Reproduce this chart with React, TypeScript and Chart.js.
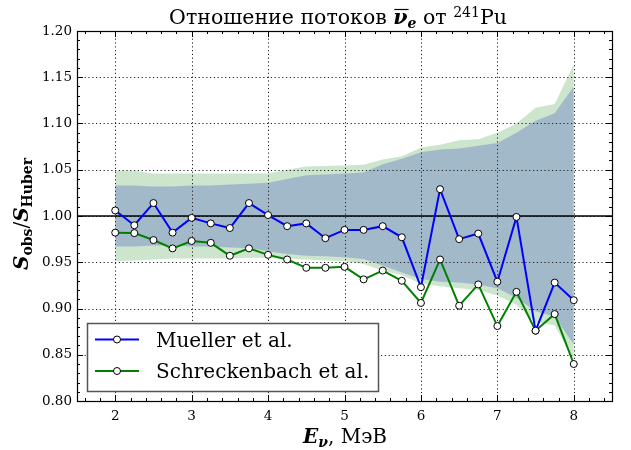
import React, { useEffect, useRef } from "react";
import { Chart, registerables } from "chart.js";

Chart.register(...registerables);

// ---------- data ----------
const energy = [2, 2.25, 2.5, 2.75, 3, 3.25, 3.5, 3.75, 4, 4.25, 4.5, 4.75, 5, 5.25, 5.5, 5.75, 6, 6.25, 6.5, 6.75, 7, 7.25, 7.5, 7.75, 8];

const mueller = [1.006, 0.990, 1.014, 0.982, 0.998, 0.992, 0.987, 1.014, 1.001, 0.989, 0.992, 0.976, 0.985, 0.985, 0.989, 0.977, 0.923, 1.029, 0.975, 0.981, 0.929, 0.999, 0.876, 0.928, 0.909];

const schreckenbach = [0.982, 0.9815, 0.974, 0.965, 0.973, 0.971, 0.957, 0.965, 0.958, 0.953, 0.944, 0.944, 0.945, 0.9315, 0.941, 0.930, 0.906, 0.953, 0.903, 0.926, 0.881, 0.918, 0.876, 0.894, 0.840];

const muellerBandHigh = [1.033, 1.033, 1.032, 1.032, 1.033, 1.033, 1.034, 1.035, 1.036, 1.040, 1.044, 1.045, 1.046, 1.047, 1.056, 1.062, 1.069, 1.072, 1.073, 1.076, 1.079, 1.090, 1.103, 1.111, 1.140];
const muellerBandLow = [0.967, 0.967, 0.968, 0.968, 0.967, 0.967, 0.966, 0.9655, 0.962, 0.959, 0.957, 0.9565, 0.9555, 0.9535, 0.9465, 0.939, 0.932, 0.929, 0.928, 0.926, 0.922, 0.9115, 0.897, 0.891, 0.861];

const schBandHigh = [1.049, 1.049, 1.046, 1.046, 1.046, 1.046, 1.046, 1.046, 1.046, 1.050, 1.0535, 1.054, 1.0545, 1.0555, 1.061, 1.0645, 1.074, 1.077, 1.082, 1.083, 1.090, 1.100, 1.117, 1.121, 1.164];
const schBandLow = [0.951, 0.952, 0.953, 0.954, 0.954, 0.954, 0.954, 0.955, 0.955, 0.954, 0.953, 0.952, 0.951, 0.948, 0.941, 0.936, 0.927, 0.924, 0.922, 0.920, 0.914, 0.904, 0.885, 0.882, 0.845];

const referenceLevel = 1.0;
const xTickValues = [2, 3, 4, 5, 6, 7, 8];
const yTickValues = [0.8, 0.85, 0.9, 0.95, 1.0, 1.05, 1.1, 1.15, 1.2];
const xRange = [1.5, 8.5];
const yRange = [0.8, 1.2];
const seriesNames = ["Mueller et al.", "Schreckenbach et al."];

// ---------- styles ----------
const FONT = '"DejaVu Serif", "Liberation Serif", serif';
const BLUE = "#0000ff";
const GREEN = "#008000";
const BLUE_BAND = "#a2b9ca";
const GREEN_BAND = "#cce5cc";

type Seg = { t: string; font: string; dy?: number; over?: boolean };

function drawRich(ctx: CanvasRenderingContext2D, segs: Seg[], cx: number, baseline: number, angle = 0) {
  ctx.save();
  ctx.translate(cx, baseline);
  if (angle) ctx.rotate(angle);
  let total = 0;
  const widths = segs.map((s) => {
    ctx.font = s.font;
    const w = ctx.measureText(s.t).width;
    total += w;
    return w;
  });
  let x = -total / 2;
  ctx.textAlign = "left";
  ctx.textBaseline = "alphabetic";
  ctx.fillStyle = "#000";
  segs.forEach((s, i) => {
    ctx.font = s.font;
    ctx.fillText(s.t, x, s.dy || 0);
    if (s.over) {
      ctx.strokeStyle = "#000";
      ctx.lineWidth = 1.2;
      ctx.beginPath();
      const oy = (s.dy || 0) - 14.5;
      ctx.moveTo(x + 1, oy);
      ctx.lineTo(x + widths[i] + 1, oy);
      ctx.stroke();
    }
    x += widths[i];
  });
  ctx.restore();
}

const decorPlugin = {
  id: "decor",
  afterDatasetDraw(chart: any, args: any) {
    // grid lines drawn just above the uncertainty bands
    if (args.index !== 3) return;
    const { ctx, chartArea: a, scales } = chart;
    const xs = scales.x, ys = scales.y;
    ctx.save();
    ctx.strokeStyle = "#222";
    ctx.lineWidth = 1;
    ctx.setLineDash([1.2, 2.6]);
    xTickValues.forEach((v) => {
      const px = Math.round(xs.getPixelForValue(v)) + 0.5;
      ctx.beginPath();
      ctx.moveTo(px, a.top);
      ctx.lineTo(px, a.bottom);
      ctx.stroke();
    });
    yTickValues.forEach((v) => {
      const py = Math.round(ys.getPixelForValue(v)) + 0.5;
      ctx.beginPath();
      ctx.moveTo(a.left, py);
      ctx.lineTo(a.right, py);
      ctx.stroke();
    });
    ctx.restore();
  },
  afterDraw(chart: any) {
    const { ctx, chartArea: a, scales } = chart;
    const xs = scales.x, ys = scales.y;
    ctx.save();
    // ticks (inward, all four sides)
    ctx.strokeStyle = "#000";
    ctx.lineWidth = 1;
    const tick = (x1: number, y1: number, x2: number, y2: number) => {
      ctx.beginPath();
      ctx.moveTo(x1, y1);
      ctx.lineTo(x2, y2);
      ctx.stroke();
    };
    for (let i = 0; i <= 35; i++) {
      const v = xRange[0] + 0.1 + i * 0.2;
      if (v > xRange[1]) break;
      const major = Math.abs(v - Math.round(v)) < 1e-6;
      const len = major ? 6 : 3;
      const px = Math.round(xs.getPixelForValue(v)) + 0.5;
      tick(px, a.bottom, px, a.bottom - len);
      tick(px, a.top, px, a.top + len);
    }
    for (let i = 0; i <= 40; i++) {
      const v = yRange[0] + i * 0.01;
      const major = i % 5 === 0;
      const len = major ? 6 : 3;
      const py = Math.round(ys.getPixelForValue(v)) + 0.5;
      tick(a.left, py, a.left + len, py);
      tick(a.right, py, a.right - len, py);
    }
    // frame
    ctx.lineWidth = 1.2;
    ctx.strokeRect(Math.round(a.left) + 0.5, Math.round(a.top) + 0.5, Math.round(a.right - a.left), Math.round(a.bottom - a.top));

    // legend
    const lx = 87, ly = 323, lw = 291, lh = 68;
    ctx.fillStyle = "#fff";
    ctx.fillRect(lx, ly, lw, lh);
    ctx.strokeStyle = "#555";
    ctx.lineWidth = 1.5;
    ctx.strokeRect(lx + 0.5, ly + 0.5, lw, lh);
    const rows = [
      { name: seriesNames[0], color: BLUE, y: 339.5 },
      { name: seriesNames[1], color: GREEN, y: 371 },
    ];
    rows.forEach((r) => {
      ctx.strokeStyle = r.color;
      ctx.lineWidth = 2;
      ctx.beginPath();
      ctx.moveTo(95, r.y);
      ctx.lineTo(139, r.y);
      ctx.stroke();
      ctx.fillStyle = "#fff";
      ctx.strokeStyle = "#000";
      ctx.lineWidth = 1;
      ctx.beginPath();
      ctx.arc(117, r.y, 3.5, 0, Math.PI * 2);
      ctx.fill();
      ctx.stroke();
      ctx.fillStyle = "#000";
      ctx.font = `20px ${FONT}`;
      ctx.textAlign = "left";
      ctx.textBaseline = "alphabetic";
      ctx.fillText(r.name, 156, r.y + 7);
    });

    // title
    const n = `20.5px ${FONT}`;
    const bi = `bold italic 20.5px ${FONT}`;
    drawRich(ctx, [
      { t: "Отношение потоков ", font: n },
      { t: "ν", font: bi, over: true },
      { t: "e", font: `bold italic 14px ${FONT}`, dy: 4 },
      { t: " от ", font: n },
      { t: "241", font: `14px ${FONT}`, dy: -7.5 },
      { t: "Pu", font: n },
    ], 338, 24);

    // x label
    drawRich(ctx, [
      { t: "E", font: `bold italic 20px ${FONT}` },
      { t: "ν", font: `bold italic 14px ${FONT}`, dy: 4 },
      { t: ", МэВ", font: `20px ${FONT}` },
    ], 345, 443);

    // y label
    drawRich(ctx, [
      { t: "S", font: `bold italic 20px ${FONT}` },
      { t: "obs", font: `bold 14px ${FONT}`, dy: 4 },
      { t: "/", font: `20px ${FONT}` },
      { t: "S", font: `bold italic 20px ${FONT}` },
      { t: "Huber", font: `bold 14px ${FONT}`, dy: 4 },
    ], 28, 214, -Math.PI / 2);
    ctx.restore();
  },
};

const pts = (ys: number[]) => energy.map((x, i) => ({ x, y: ys[i] }));

export default function App() {
  const ref = useRef<HTMLCanvasElement>(null);
  useEffect(() => {
    if (!ref.current) return;
    const chart = new Chart(ref.current, {
      type: "line",
      data: {
        datasets: [
          {
            label: seriesNames[0],
            data: pts(mueller),
            borderColor: BLUE,
            borderWidth: 2,
            pointRadius: 3.5,
            pointBackgroundColor: "#fff",
            pointBorderColor: "#000",
            pointBorderWidth: 1,
            fill: false,
            order: 0,
          },
          {
            label: seriesNames[1],
            data: pts(schreckenbach),
            borderColor: GREEN,
            borderWidth: 2,
            pointRadius: 3.5,
            pointBackgroundColor: "#fff",
            pointBorderColor: "#000",
            pointBorderWidth: 1,
            fill: false,
            order: 1,
          },
          {
            label: "ref",
            data: [
              { x: xRange[0], y: referenceLevel },
              { x: xRange[1], y: referenceLevel },
            ],
            borderColor: "#000",
            borderWidth: 1.5,
            pointRadius: 0,
            fill: false,
            order: 2,
          },
          {
            label: "muellerHigh",
            data: pts(muellerBandHigh),
            borderWidth: 0,
            borderColor: "rgba(0,0,0,0)",
            backgroundColor: BLUE_BAND,
            pointRadius: 0,
            fill: "+1",
            order: 3,
          },
          {
            label: "muellerLow",
            data: pts(muellerBandLow),
            borderWidth: 0,
            borderColor: "rgba(0,0,0,0)",
            pointRadius: 0,
            fill: false,
            order: 4,
          },
          {
            label: "schHigh",
            data: pts(schBandHigh),
            borderWidth: 0,
            borderColor: "rgba(0,0,0,0)",
            backgroundColor: GREEN_BAND,
            pointRadius: 0,
            fill: "+1",
            order: 5,
          },
          {
            label: "schLow",
            data: pts(schBandLow),
            borderWidth: 0,
            borderColor: "rgba(0,0,0,0)",
            pointRadius: 0,
            fill: false,
            order: 6,
          },
        ],
      },
      options: {
        animation: false,
        responsive: false,
        devicePixelRatio: 1,
        layout: { padding: { top: 31, right: 19, left: 0, bottom: 0 } },
        plugins: {
          legend: { display: false },
          tooltip: { enabled: false },
          title: { display: false },
        },
        scales: {
          x: {
            type: "linear",
            min: xRange[0],
            max: xRange[1],
            grid: { display: false, drawTicks: false },
            border: { display: false },
            afterBuildTicks: (s: any) => {
              s.ticks = xTickValues.map((v) => ({ value: v }));
            },
            afterFit: (s: any) => {
              s.height = 49;
            },
            ticks: {
              color: "#000",
              font: { family: FONT, size: 13.5 },
              padding: 7,
              maxRotation: 0,
              callback: (v: any) => String(v),
            },
          },
          y: {
            type: "linear",
            min: yRange[0],
            max: yRange[1],
            grid: { display: false, drawTicks: false },
            border: { display: false },
            afterBuildTicks: (s: any) => {
              s.ticks = yTickValues.map((v) => ({ value: v }));
            },
            afterFit: (s: any) => {
              s.width = 77;
            },
            ticks: {
              color: "#000",
              font: { family: FONT, size: 13.5 },
              padding: 5,
              callback: (v: any) => Number(v).toFixed(2),
            },
          },
        },
      },
      plugins: [decorPlugin],
    } as any);
    return () => chart.destroy();
  }, []);
  return (
    <div style={{ position: "absolute", left: 0, top: 0, width: 631, height: 450, background: "#fff" }}>
      <canvas ref={ref} width={631} height={450} />
    </div>
  );
}
